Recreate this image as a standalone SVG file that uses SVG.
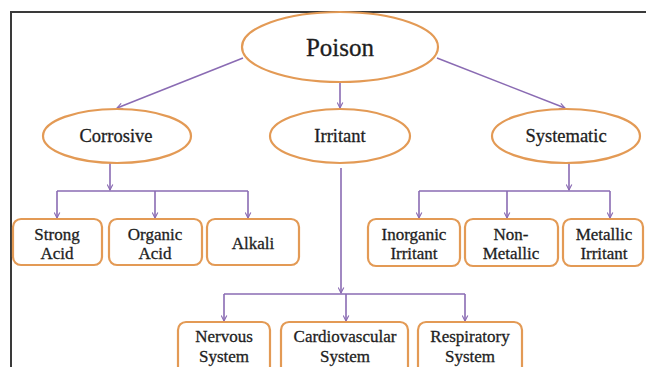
<svg xmlns="http://www.w3.org/2000/svg" width="646" height="367" viewBox="0 0 646 367">
<defs>
<marker id="arr" viewBox="0 0 10 10" refX="9" refY="5" markerWidth="7" markerHeight="7" orient="auto" markerUnits="userSpaceOnUse">
<path d="M1,1 L9,5 L1,9" fill="none" stroke="#8a6bb3" stroke-width="1.6"/>
</marker>
<style>
.n{fill:#fff;stroke:#e39a55;stroke-width:2.2}
.c{fill:none;stroke:#8a6bb3;stroke-width:1.6}
.tx{font-family:'Liberation Serif','DejaVu Serif',serif;fill:#1e1e1e;stroke:#1e1e1e;stroke-width:0.3;text-anchor:middle}
.t1{font-size:25px}
.t2{font-size:18.5px}
.t3{font-size:17px}
</style>
</defs>
<rect width="646" height="367" fill="#fff"/>
<path d="M11,367 V12 H646" fill="none" stroke="#3a3a3a" stroke-width="2"/>
<g id="connectors">
<line class="c" x1="243" y1="58" x2="117" y2="108" marker-end="url(#arr)"/>
<line class="c" x1="340" y1="82" x2="340" y2="108" marker-end="url(#arr)"/>
<line class="c" x1="437" y1="58" x2="565" y2="108" marker-end="url(#arr)"/>
<line class="c" x1="110" y1="163" x2="110" y2="190" marker-end="url(#arr)"/>
<line class="c" x1="57" y1="191" x2="248" y2="191"/>
<line class="c" x1="57" y1="191" x2="57" y2="218" marker-end="url(#arr)"/>
<line class="c" x1="155" y1="191" x2="155" y2="218" marker-end="url(#arr)"/>
<line class="c" x1="248" y1="191" x2="248" y2="218" marker-end="url(#arr)"/>
<line class="c" x1="569" y1="163" x2="569" y2="190" marker-end="url(#arr)"/>
<line class="c" x1="419" y1="191" x2="610" y2="191"/>
<line class="c" x1="419" y1="191" x2="419" y2="218" marker-end="url(#arr)"/>
<line class="c" x1="507" y1="191" x2="507" y2="218" marker-end="url(#arr)"/>
<line class="c" x1="610" y1="191" x2="610" y2="218" marker-end="url(#arr)"/>
<line class="c" x1="341" y1="168" x2="341" y2="293" marker-end="url(#arr)"/>
<line class="c" x1="224" y1="294" x2="465" y2="294"/>
<line class="c" x1="224" y1="294" x2="224" y2="321" marker-end="url(#arr)"/>
<line class="c" x1="346" y1="294" x2="346" y2="321" marker-end="url(#arr)"/>
<line class="c" x1="465" y1="294" x2="465" y2="321" marker-end="url(#arr)"/>
</g>
<g id="poison"><ellipse class="n" cx="340" cy="47" rx="98" ry="35"/><text class="tx t1" x="340" y="56">Poison</text></g>
<g id="corrosive"><ellipse class="n" cx="117" cy="136" rx="74" ry="27"/><text class="tx t2" x="116" y="142">Corrosive</text></g>
<g id="irritant"><ellipse class="n" cx="340" cy="136" rx="70" ry="27"/><text class="tx t2" x="340" y="142">Irritant</text></g>
<g id="systematic"><ellipse class="n" cx="566" cy="136" rx="74" ry="27"/><text class="tx t2" x="566" y="142">Systematic</text></g>
<g id="strong-acid"><rect class="n" x="13" y="219" width="89" height="46" rx="8"/><text class="tx t3" x="57" y="240">Strong</text><text class="tx t3" x="57" y="259">Acid</text></g>
<g id="organic-acid"><rect class="n" x="109" y="219" width="93" height="46" rx="8"/><text class="tx t3" x="155" y="240">Organic</text><text class="tx t3" x="155" y="259">Acid</text></g>
<g id="alkali"><rect class="n" x="207" y="219" width="92" height="46" rx="8"/><text class="tx t3" x="253" y="249">Alkali</text></g>
<g id="inorganic-irritant"><rect class="n" x="368" y="219" width="92" height="47" rx="8"/><text class="tx t3" x="414" y="240">Inorganic</text><text class="tx t3" x="414" y="259">Irritant</text></g>
<g id="non-metallic"><rect class="n" x="465" y="219" width="93" height="47" rx="8"/><text class="tx t3" x="511" y="240">Non-</text><text class="tx t3" x="511" y="259">Metallic</text></g>
<g id="metallic-irritant"><rect class="n" x="563" y="219" width="80" height="47" rx="8"/><text class="tx t3" x="604" y="240">Metallic</text><text class="tx t3" x="604" y="259">Irritant</text></g>
<g id="nervous-system"><rect class="n" x="178" y="322" width="92" height="54" rx="8"/><text class="tx t3" x="224" y="342">Nervous</text><text class="tx t3" x="224" y="362">System</text></g>
<g id="cardiovascular-system"><rect class="n" x="281" y="322" width="127" height="54" rx="8"/><text class="tx t3" x="345" y="342">Cardiovascular</text><text class="tx t3" x="345" y="362">System</text></g>
<g id="respiratory-system"><rect class="n" x="418" y="322" width="104" height="54" rx="8"/><text class="tx t3" x="470" y="342">Respiratory</text><text class="tx t3" x="470" y="362">System</text></g>
</svg>
